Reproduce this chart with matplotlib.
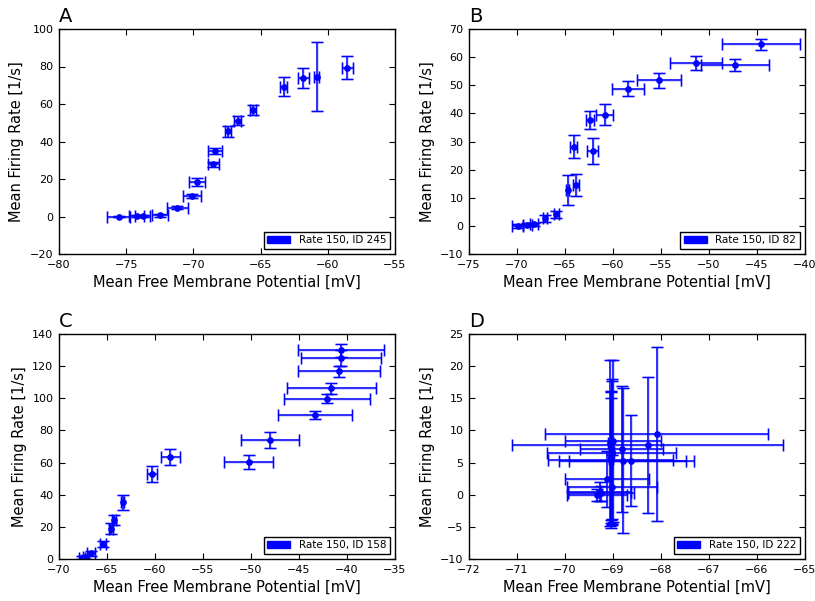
import numpy as np
import matplotlib
matplotlib.use("Agg")
from matplotlib import pyplot as plt
from matplotlib.patches import Patch

# Panel A: Rate 150, ID 245
a_x = [-75.55, -74.22, -73.78, -72.48, -71.19, -70.12, -69.70, -68.51, -68.39, -67.40, -66.71, -65.57, -63.29, -61.83, -60.84, -58.56]
a_y = [0.0, 0.1, 0.1, 0.6, 4.8, 10.9, 18.3, 27.8, 34.9, 45.4, 51.1, 56.8, 69.3, 73.7, 74.6, 79.4]
a_xerr = [0.85, 0.55, 0.55, 0.6, 0.78, 0.67, 0.6, 0.42, 0.5, 0.22, 0.26, 0.2, 0.25, 0.4, 0.2, 0.4]
a_yerr = [0.5, 0.5, 0.5, 0.8, 1.0, 1.2, 2.0, 1.5, 1.5, 3.0, 2.5, 2.5, 5.0, 5.4, 18.5, 6.0]

# Panel B: Rate 150, ID 82
b_x = [-69.92, -68.91, -68.25, -67.07, -65.92, -64.70, -63.87, -64.11, -62.40, -62.13, -60.87, -58.47, -55.20, -51.34, -47.30, -44.62]
b_y = [0.0, 0.4, 0.5, 2.7, 4.1, 12.8, 14.5, 28.2, 37.7, 26.6, 39.5, 48.8, 51.8, 57.9, 57.3, 64.6]
b_xerr = [0.57, 0.5, 0.4, 0.2, 0.25, 0.15, 0.3, 0.35, 0.4, 0.6, 0.87, 1.65, 2.33, 2.73, 3.57, 4.07]
b_yerr = [0.6, 0.6, 0.7, 1.2, 1.3, 5.2, 3.9, 4.1, 3.3, 4.6, 3.7, 2.6, 2.6, 2.4, 2.2, 2.0]

# Panel C: Rate 150, ID 158
c_x = [-67.61, -67.16, -66.67, -65.43, -64.59, -64.28, -63.38, -60.33, -58.39, -50.25, -48.03, -43.32, -42.11, -41.62, -40.86, -40.62, -40.65]
c_y = [0.8, 1.2, 3.5, 9.3, 18.8, 24.4, 35.2, 52.8, 63.4, 60.5, 74.1, 89.5, 99.8, 106.2, 116.8, 125.1, 129.8]
c_xerr = [0.3, 0.3, 0.4, 0.35, 0.2, 0.25, 0.2, 0.5, 1.0, 2.55, 3.03, 3.85, 4.5, 4.6, 4.28, 4.12, 4.49]
c_yerr = [1.0, 1.0, 1.5, 2.0, 3.5, 3.2, 4.5, 5.0, 4.8, 4.5, 5.0, 2.5, 3.0, 3.5, 3.5, 5.0, 4.0]

# Panel D: Rate 150, ID 222
d_x = [-68.09, -69.00, -68.28, -68.82, -69.03, -68.80, -68.62, -69.05, -69.12, -69.02, -69.28, -69.33, -69.25, -69.06, -69.03, -69.05, -69.04]
d_y = [9.4, 8.35, 7.75, 7.1, 6.55, 5.3, 5.3, 5.4, 2.44, 1.25, 0.45, -0.05, 0.2, 8.0, 6.7, 5.9, 5.5]
d_xerr = [2.32, 1.01, 2.83, 0.86, 1.35, 1.33, 1.3, 1.3, 0.87, 0.93, 0.65, 0.62, 0.68, 0.05, 0.05, 0.03, 0.04]
d_yerr = [13.5, 12.6, 10.6, 9.8, 11.2, 11.3, 7.1, 10.5, 4.3, 5.0, 1.5, 1.0, 1.2, 12.9, 11.3, 10.3, 9.5]

panels = [
    ("A", "Rate 150, ID 245", a_x, a_y, a_xerr, a_yerr, (-80, -55), (-20, 100), 5, 20),
    ("B", "Rate 150, ID 82", b_x, b_y, b_xerr, b_yerr, (-75, -40), (-10, 70), 5, 10),
    ("C", "Rate 150, ID 158", c_x, c_y, c_xerr, c_yerr, (-70, -35), (0, 140), 5, 20),
    ("D", "Rate 150, ID 222", d_x, d_y, d_xerr, d_yerr, (-72, -65), (-10, 25), 1, 5),
]
# axes boxes in pixels (left, top) on a 815x601 canvas
boxes = [(59, 29), (469, 29), (59, 334), (469, 334)]
W, H = 815., 601.
aw, ah = 336., 225.

fig = plt.figure(figsize=(8.15, 6.01), dpi=100)
for (lab, leg, x, y, xe, ye, xl, yl, xs, ys), (l, t) in zip(panels, boxes):
    ax = fig.add_axes([l / W, 1 - (t + ah) / H, aw / W, ah / H])
    # faint halo under the bars
    ax.errorbar(x, y, xerr=xe, yerr=ye, fmt='o', color='blue', ecolor='blue',
                ms=4.5, elinewidth=2.2, capsize=4, capthick=2, alpha=0.15, mec='none')
    ax.errorbar(x, y, xerr=xe, yerr=ye, fmt='o', color='blue', ecolor='blue',
                ms=3.8, elinewidth=1.1, capsize=4, capthick=1, mec='blue')
    ax.set_xlim(xl)
    ax.set_ylim(yl)
    ax.set_xticks(np.arange(xl[0], xl[1] + 0.01, xs))
    ax.set_yticks(np.arange(yl[0], yl[1] + 0.01, ys))
    ax.tick_params(direction='in', top=True, right=True, length=4, labelsize=8, pad=4)
    ax.set_xlabel("Mean Free Membrane Potential [mV]", fontsize=10.5, labelpad=4)
    ax.set_ylabel("Mean Firing Rate [1/s]", fontsize=10.5, labelpad=4)
    for s in ax.spines.values():
        s.set_linewidth(1)
    ax.text(0.0, 1.015, lab, transform=ax.transAxes, fontsize=14, ha='left', va='bottom')
    lg = ax.legend(handles=[Patch(facecolor='blue', edgecolor='blue', label=leg)],
                   loc='lower right', fontsize=7.5, fancybox=False, framealpha=1,
                   borderpad=0.35, borderaxespad=0.5, handlelength=2.2)
    lg.get_frame().set_edgecolor('black')
    lg.get_frame().set_linewidth(1)

fig.savefig("out.png", dpi=100)
